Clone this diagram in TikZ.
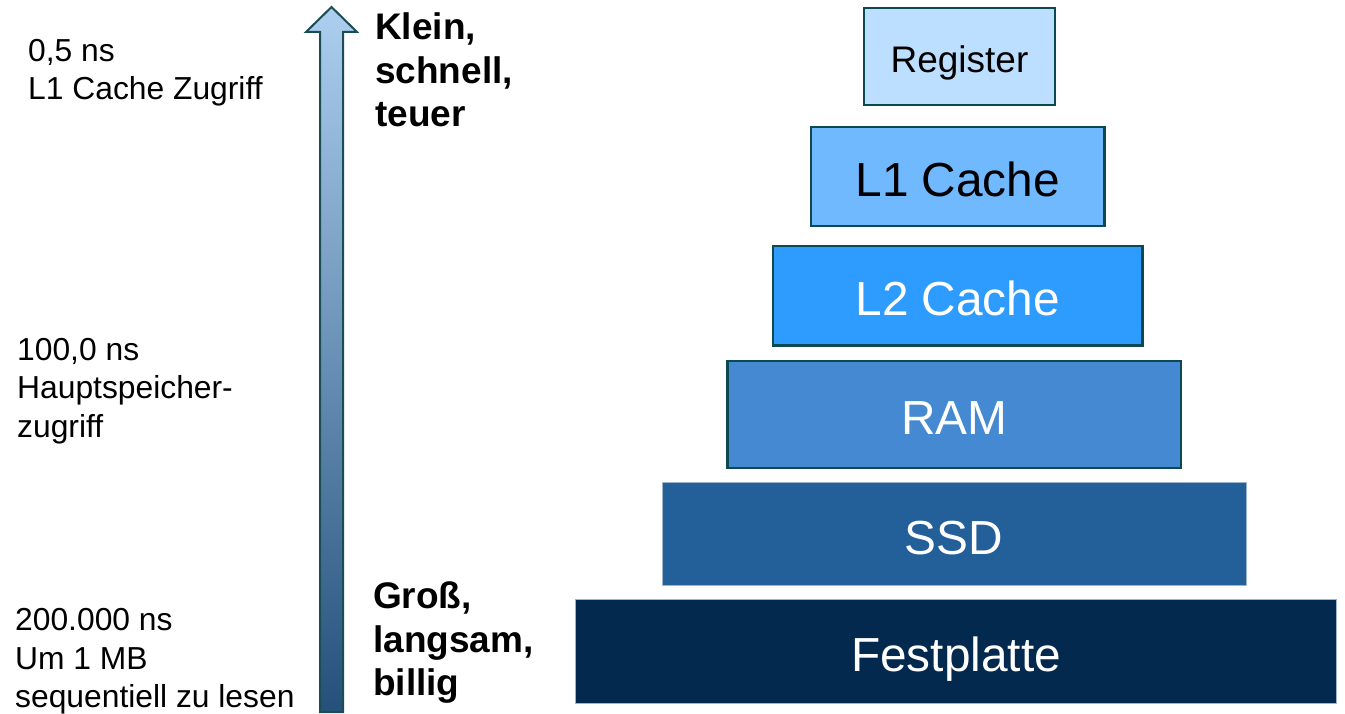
\documentclass[tikz,border=0pt]{standalone}
\usepackage{fontspec}
\setmainfont{Liberation Sans}
\definecolor{edge}{HTML}{0D4A50}
\definecolor{softedge}{HTML}{9DB5CF}
\definecolor{cReg}{HTML}{BDDFFF}
\definecolor{cLone}{HTML}{71B9FF}
\definecolor{cLtwo}{HTML}{2E9BFF}
\definecolor{cRam}{HTML}{4489D2}
\definecolor{cSsd}{HTML}{235F98}
\definecolor{cHdd}{HTML}{03294F}
\definecolor{arrTop}{HTML}{ADCFF0}
\definecolor{arrMid}{HTML}{6F98C3}
\definecolor{arrBot}{HTML}{24507A}
\definecolor{arrEdge}{HTML}{1B4D55}
\tikzset{
  level/.style={rectangle, inner sep=0pt, line width=2.2pt, draw=edge,
    font=\fontsize{47.8}{56}\selectfont, text=white, text height=40pt, text depth=0pt},
  basecell/.style={rectangle, inner sep=0pt, line width=1pt, draw=softedge,
    font=\fontsize{47.8}{56}\selectfont, text=white, text height=40pt, text depth=0pt},
  note/.style={anchor=base west, inner sep=0pt, font=\fontsize{31.8}{38}\selectfont},
  tag/.style={anchor=base west, inner sep=0pt, font=\fontsize{37}{44}\selectfont\bfseries}
}
\begin{document}
\begin{tikzpicture}[x=1pt,y=-1pt]
\useasboundingbox (0,0) rectangle (1345,714);

% the storage pyramid, smallest level on top
\node[level, fill=cReg, text=black, minimum width=191, minimum height=97,
      font=\fontsize{37}{44}\selectfont, text height=32.5pt] (reg) at (959.5,56.5) {Register};
\node[level, fill=cLone, text=black, minimum width=293.5, minimum height=99] (l1) at (957.75,176.5) {L1 Cache};
\node[level, fill=cLtwo, minimum width=369.5, minimum height=99.5] (l2) at (957.75,295.75) {L2 Cache};
\node[level, fill=cRam, minimum width=453.5, minimum height=107] (ram) at (954.25,414.5) {RAM};
\node[basecell, fill=cSsd, minimum width=584, minimum height=102.5] (ssd) at (954,534) {SSD};
\node[basecell, fill=cHdd, minimum width=761, minimum height=103.5] (hdd) at (956,651.25) {Festplatte};

% upward block arrow with gradient
\path[draw=arrEdge, line width=2pt, top color=arrTop, middle color=arrMid, bottom color=arrBot, line join=miter]
  (320,712) -- (320,32) -- (306,32) -- (331.5,7) -- (357,32) -- (343,32) -- (343,712) -- cycle;

% characteristics beside the arrow
\node[tag] (k1) at (375,39.5) {Klein,};
\node[tag] (k2) at (375,84) {schnell,};
\node[tag] (k3) at (375,126.5) {teuer};
\node[tag] (g1) at (373,608.5) {Groß,};
\node[tag] (g2) at (373,652) {langsam,};
\node[tag] (g3) at (373,695.5) {billig};

% access times
\node[note] (t1a) at (28,61.5) {0,5 ns};
\node[note] (t1b) at (28,100) {L1 Cache Zugriff};
\node[note] (t2a) at (17,360) {100,0 ns};
\node[note] (t2b) at (17,398.5) {Hauptspeicher-};
\node[note] (t2c) at (17,437) {zugriff};
\node[note] (t3a) at (15,630.5) {200.000 ns};
\node[note] (t3b) at (15,669) {Um 1 MB};
\node[note] (t3c) at (15,707) {sequentiell zu lesen};
\end{tikzpicture}
\end{document}
